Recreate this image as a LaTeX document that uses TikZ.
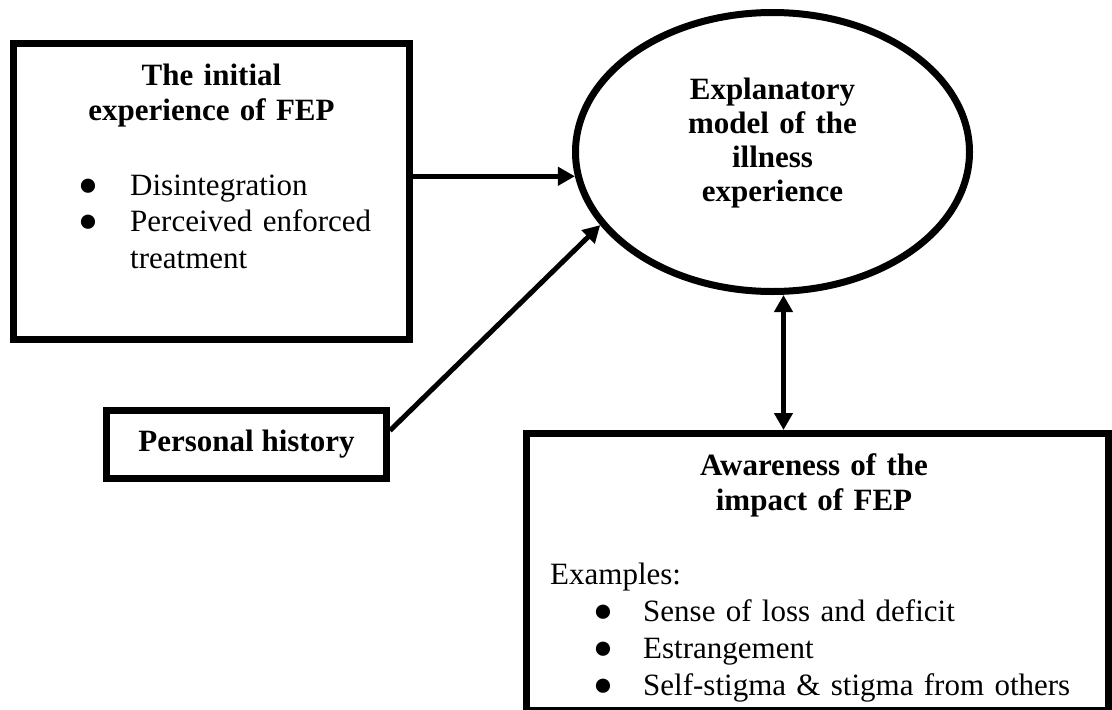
\documentclass[tikz,border=0pt]{standalone}
\usepackage{fontspec}
\setmainfont{Liberation Serif}
\usetikzlibrary{arrows.meta,shapes.geometric}
\newcommand{\bul}{{\fontsize{33}{33}\selectfont ●}}

\begin{document}
\begin{tikzpicture}[x=1pt,y=-1pt,
  box/.style={draw, line width=7pt, inner sep=0pt},
  txt/.style={inner sep=0pt, font=\fontsize{31}{36.5}\selectfont},
  bold/.style={inner sep=0pt, font=\fontsize{31}{35}\selectfont\bfseries},
  arr/.style={line width=5pt, -{Triangle[length=17pt,width=18pt]}},
  dblarr/.style={line width=5pt, {Triangle[length=17pt,width=18pt]}-{Triangle[length=17pt,width=18pt]}}]
\useasboundingbox (0,0) rectangle (1112,710);
% boxes and ellipse
\node[box, minimum width=396pt, minimum height=296pt] (initexp) at (211.5,191.5) {};
\node[box, minimum width=280pt, minimum height=68pt, bold] (pershist) at (246.5,444.5) {Personal history};
\node[box, ellipse, minimum width=394pt, minimum height=279pt, bold, text width=220pt, align=center,
  font=\fontsize{31}{34}\selectfont\bfseries] (explmodel) at (772.5,152)
  {Explanatory\\model of the\\illness\\experience\rule[-25pt]{0pt}{25pt}};
\node[box, minimum width=582pt, minimum height=277pt] (impact) at (817.5,572) {};
% texts of the boxes
\node[bold, text width=380pt, align=center, anchor=base] (initexptitle) at (211.5,85)
  {The initial\\experience of FEP};
\node[txt, text width=320pt, align=left, anchor=base west] (initexplist) at (78,195)
  {\makebox[52pt][l]{\bul}Disintegration\\
   \makebox[52pt][l]{\bul}Perceived enforced\\
   \hspace*{52pt}treatment};
\node[bold, text width=420pt, align=center, anchor=base] (impacttitle) at (814,475)
  {Awareness of the\\impact of FEP};
\node[txt, text width=540pt, align=left, anchor=base west, font=\fontsize{31}{37}\selectfont] (impactlist) at (550,584)
  {Examples:\\
   \hspace*{43pt}\makebox[50pt][l]{\bul}Sense of loss and deficit\\
   \hspace*{43pt}\makebox[50pt][l]{\bul}Estrangement\\
   \hspace*{43pt}\makebox[50pt][l]{\bul}Self-stigma \& stigma from others};
% arrows
\draw[arr] (initexp.east |- explmodel.187) -- (explmodel.187);
\draw[arr] ([yshift=14pt]pershist.east) -- (explmodel.203);
\draw[dblarr] ([xshift=11pt]explmodel.south) -- ([xshift=11pt]explmodel.south |- impact.north);
\end{tikzpicture}
\end{document}
